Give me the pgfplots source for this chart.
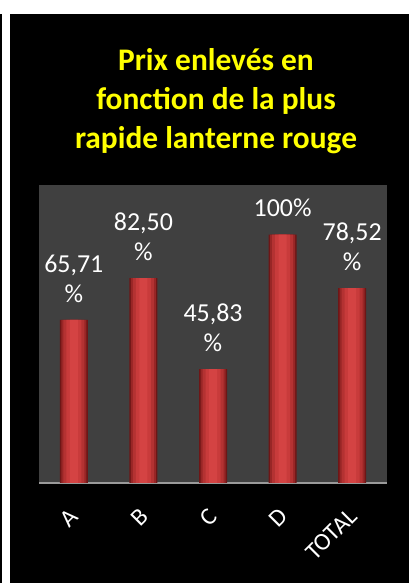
\documentclass[border=0pt]{standalone}
\usepackage{fontspec}
\setmainfont{Carlito}
\usepackage{pgfplots}
\usepackage{pgfplotstable}
\pgfplotsset{compat=1.18}
\definecolor{plotbg}{HTML}{404040}
\definecolor{barA}{HTML}{6E1616}
\definecolor{barB}{HTML}{982626}
\definecolor{barC}{HTML}{B43232}
\definecolor{barD}{HTML}{C83B3B}
\definecolor{barE}{HTML}{D44343}
\definecolor{titley}{HTML}{FFFF00}
\definecolor{baseln}{HTML}{9A9A9A}
\pgfplotstableread{
x y label
0 65.71 {65,71\\\%}
1 82.50 {82,50\\\%}
2 45.83 {45,83\\\%}
3 100 {100\%}
4 78.52 {78,52\\\%}
}\prixdata
\begin{document}
\begin{tikzpicture}[x=1bp,y=1bp]
\fill[white] (0,0) rectangle (409,583);
\fill[black] (10,0) rectangle (409,569);
\fill[black] (0,0) rectangle (2,569);
\begin{axis}[
  at={(39bp,100bp)}, anchor=south west,
  width=348bp, height=298bp, scale only axis,
  xmin=-0.5, xmax=4.5, ymin=0, ymax=120,
  axis background/.style={fill=plotbg},
  axis x line*=bottom, axis y line=none,
  x axis line style={draw=baseln, line width=1.5bp, -},
  ytick=\empty,
  xtick={0,1,2,3,4},
  xticklabels={A,B,C,D,TOTAL},
  xtick style={draw=none},
  major tick length=0pt,
  xticklabel style={text=white, font=\fontsize{24.5}{28}\selectfont, xshift=3bp, yshift=-27bp, rotate=45, anchor=east},
  title={Prix enlevés en\\fonction de la plus\\rapide lanterne rouge},
  title style={font=\bfseries\fontsize{31.5}{39}\selectfont, text=titley, align=center,
    at={(axis description cs:0.5,1)}, anchor=south, xshift=3bp, yshift=22bp},
]
\addplot[ybar, bar shift=0pt, bar width=28bp, draw=none, fill=barA] table[x=x, y=y] {\prixdata};
\addplot[ybar, bar shift=0pt, bar width=25bp, draw=none, fill=barB] table[x=x, y=y] {\prixdata};
\addplot[ybar, bar shift=0pt, bar width=21bp, draw=none, fill=barC] table[x=x, y=y] {\prixdata};
\addplot[ybar, bar shift=0pt, bar width=15bp, draw=none, fill=barD] table[x=x, y=y] {\prixdata};
\addplot[ybar, bar shift=0pt, bar width=8bp, draw=none, fill=barE,
  nodes near coords, point meta=explicit symbolic,
  nodes near coords style={text=white, font=\fontsize{26}{30}\selectfont, align=center, anchor=south, yshift=14bp}]
  table[x=x, y=y, meta=label] {\prixdata};
\end{axis}
\end{tikzpicture}
\end{document}
